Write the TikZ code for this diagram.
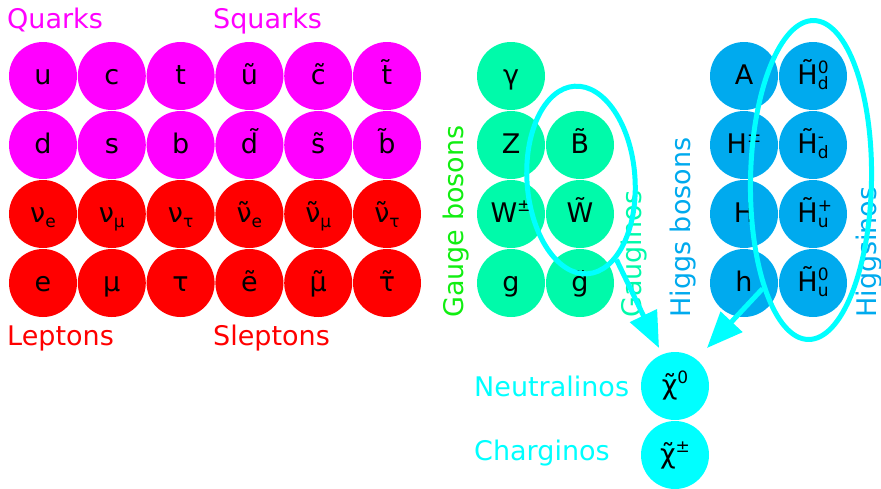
\documentclass[tikz,border=0pt]{standalone}
\usepackage{fontspec}
\setmainfont{DejaVu Sans}
\usetikzlibrary{shapes.geometric,arrows.meta}

\definecolor{squarkc}{HTML}{FF00FF}
\definecolor{leptonc}{HTML}{FF0000}
\definecolor{gaugec}{HTML}{00FAAA}
\definecolor{gaugelbl}{HTML}{11EE11}
\definecolor{higgsc}{HTML}{00AAEE}
\definecolor{inoc}{HTML}{00FFFF}

% tilde over a letter (combining tilde)
\newcommand\tl[1]{#1^^^^0303}
% small raised / lowered indices
\newcommand\lowidx[1]{\raisebox{-5pt}{\fontsize{17}{17}\selectfont #1}}
\newcommand\upidx[1]{\raisebox{10.5pt}{\fontsize{17}{17}\selectfont #1}}
\newcommand\updown[2]{\rlap{\upidx{#1}}\lowidx{#2}}

\tikzset{
  pc/.style={circle, fill=#1, minimum size=68pt, inner sep=0pt,
    text height=19pt, text depth=3pt, font=\fontsize{27}{27}\selectfont},
  lbl/.style={anchor=base west, inner sep=0pt, font=\fontsize{27}{27}\selectfont},
  vlbl/.style={lbl, rotate=90},
  ring/.style={draw=inoc, line width=5pt, ellipse, inner sep=0pt},
  mix/.style={draw=inoc, line width=5pt,
    -{Triangle[length=36pt, width=29pt]}},
}

\begin{document}
\begin{tikzpicture}[x=1pt, y=-1pt]
\useasboundingbox (0,0) rectangle (881,488);

% quarks and squarks
\node[pc=squarkc] (u)  at (43,76)    {u};
\node[pc=squarkc] (c)  at (111.8,76) {c};
\node[pc=squarkc] (t)  at (180.6,76) {t};
\node[pc=squarkc] (su) at (249.4,76) {\tl{u}};
\node[pc=squarkc] (sc) at (318.2,76) {\tl{c}};
\node[pc=squarkc] (st) at (387,76)   {\tl{t}};
\node[pc=squarkc] (d)  at (43,145)    {d};
\node[pc=squarkc] (s)  at (111.8,145) {s};
\node[pc=squarkc] (b)  at (180.6,145) {b};
\node[pc=squarkc] (sd) at (249.4,145) {\tl{d}};
\node[pc=squarkc] (ss) at (318.2,145) {\tl{s}};
\node[pc=squarkc] (sb) at (387,145)   {\tl{b}};

% leptons and sleptons
\node[pc=leptonc] (ne)   at (43,214)    {ν\lowidx{e}};
\node[pc=leptonc] (nm)   at (111.8,214) {ν\lowidx{μ}};
\node[pc=leptonc] (nt)   at (180.6,214) {ν\lowidx{τ}};
\node[pc=leptonc] (sne)  at (249.4,214) {\tl{ν}\lowidx{e}};
\node[pc=leptonc] (snm)  at (318.2,214) {\tl{ν}\lowidx{μ}};
\node[pc=leptonc] (snt)  at (387,214)   {\tl{ν}\lowidx{τ}};
\node[pc=leptonc] (e)    at (43,283)    {e};
\node[pc=leptonc] (mu)   at (111.8,283) {μ};
\node[pc=leptonc] (tau)  at (180.6,283) {τ};
\node[pc=leptonc] (se)   at (249.4,283) {\tl{e}};
\node[pc=leptonc] (smu)  at (318.2,283) {\tl{μ}};
\node[pc=leptonc] (stau) at (387,283)   {\tl{τ}};

% gauge bosons and gauginos
\node[pc=gaugec] (gam) at (511,76)  {γ};
\node[pc=gaugec] (Z)   at (511,145) {Z};
\node[pc=gaugec] (W)   at (511,214) {W\upidx{±}};
\node[pc=gaugec] (g)   at (511,283) {g};
\node[pc=gaugec] (sB)  at (580,145) {\tl{B}};
\node[pc=gaugec] (sW)  at (580,214) {\tl{W}};
\node[pc=gaugec] (sg)  at (580,283) {\tl{g}};

% Higgs bosons and higgsinos
\node[pc=higgsc] (A)   at (744,76)  {A};
\node[pc=higgsc] (Hpm) at (744,145) {H\upidx{±}};
\node[pc=higgsc] (H)   at (744,214) {H};
\node[pc=higgsc] (h)   at (744,283) {h};
\node[pc=higgsc] (Hd0) at (813,76)  {\tl{H}\updown{0}{d}};
\node[pc=higgsc] (Hdm) at (813,145) {\tl{H}\updown{-}{d}};
\node[pc=higgsc] (Hup) at (813,214) {\tl{H}\updown{+}{u}};
\node[pc=higgsc] (Hu0) at (813,283) {\tl{H}\updown{0}{u}};

% neutralinos and charginos
\node[pc=inoc] (chi0)  at (675,386) {\tl{χ}\upidx{0}};
\node[pc=inoc] (chipm) at (675,455) {\tl{χ}\upidx{±}};

% group labels
\node[lbl, text=squarkc] (lq)  at (7,28)    {Quarks};
\node[lbl, text=squarkc] (lsq) at (213,28)  {Squarks};
\node[lbl, text=leptonc] (ll)  at (7,345)   {Leptons};
\node[lbl, text=leptonc] (lsl) at (213,345) {Sleptons};
\node[vlbl, text=gaugelbl] (lgb) at (463,318) {Gauge bosons};
\node[vlbl, text=gaugec]   (lgi) at (641,318) {Gauginos};
\node[vlbl, text=higgsc]   (lhb) at (690,318) {Higgs bosons};
\node[vlbl, text=higgsc]   (lhi) at (876,318) {Higgsinos};
\node[lbl, text=inoc] (lneu) at (474,396) {Neutralinos};
\node[lbl, text=inoc] (lcha) at (474,460) {Charginos};

% mixing groups and arrows to the mass states
\node[ring, minimum width=108pt, minimum height=188pt, rotate=4] (gring) at (581,180) {};
\node[ring, minimum width=121pt, minimum height=319pt, rotate=-1] (hring) at (811,180) {};
\coordinate (gtip) at (659,348);
\coordinate (htip) at (707,348);
\draw[mix] (gring.-70) -- (gtip);
\draw[mix] (hring.-113) -- (htip);
\end{tikzpicture}
\end{document}
